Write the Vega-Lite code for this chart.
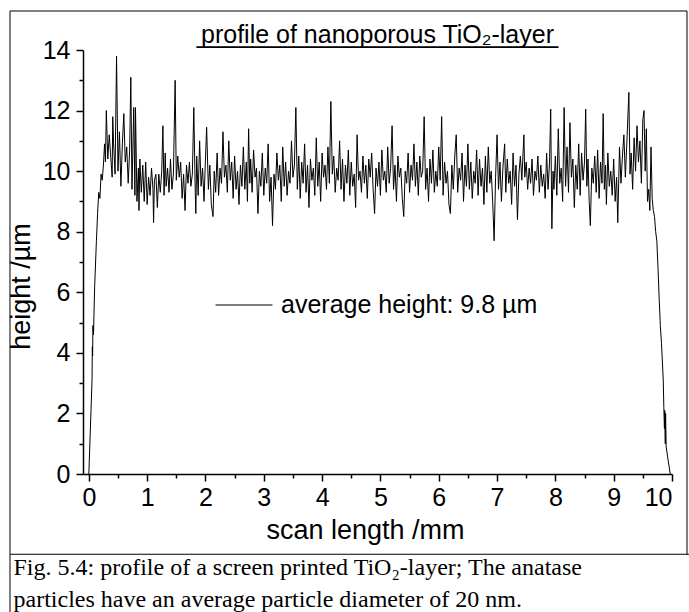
{
 "$schema": "https://vega.github.io/schema/vega-lite/v6.json",
 "autosize": {"type": "none"},
 "width": 589,
 "height": 424,
 "padding": {"left": 83, "top": 50, "right": 17, "bottom": 138},
 "background": "white",
 "title": {
  "text": "profile of nanoporous TiO\u2082-layer",
  "subtitle": "__________________________",
  "font": "Liberation Sans",
  "fontSize": 25,
  "fontWeight": "normal",
  "color": "black",
  "subtitleFont": "Liberation Sans",
  "subtitleFontSize": 25,
  "subtitleColor": "black",
  "subtitlePadding": -25,
  "anchor": "middle",
  "offset": -38
 },
 "config": {
  "view": {"stroke": null},
  "axis": {
   "domainColor": "black",
   "domainWidth": 1.5,
   "tickColor": "black",
   "tickWidth": 1.5,
   "labelColor": "black",
   "labelFont": "Liberation Sans",
   "labelFontSize": 25,
   "titleColor": "black",
   "titleFont": "Liberation Sans",
   "titleFontSize": 27,
   "titleFontWeight": "normal",
   "grid": false
  }
 },
 "data": {"values": [
  {"x":0,"y":0},{"x":0.055,"y":3.1},{"x":0.06,"y":4.2},{"x":0.065,"y":3.9},{"x":0.07,"y":4.9},{"x":0.08,"y":4.6},{"x":0.1,"y":6.2},{"x":0.13,"y":7.7},{"x":0.15,"y":8.6},{"x":0.17,"y":9.3},{"x":0.19,"y":9.1},{"x":0.21,"y":9.9},{"x":0.23,"y":9.7},{"x":0.25,"y":10.2},{"x":0.27,"y":10.9},{"x":0.285,"y":10.3},{"x":0.3,"y":12.0},
  {"x":0.325,"y":10.4},{"x":0.35,"y":11.2},{"x":0.375,"y":10.5},{"x":0.4,"y":9.8},{"x":0.41,"y":11.8},{"x":0.425,"y":10.9},{"x":0.45,"y":9.9},{"x":0.475,"y":13.8},{"x":0.5,"y":10.0},{"x":0.525,"y":11.3},{"x":0.55,"y":9.5},{"x":0.575,"y":10.9},{"x":0.6,"y":11.9},{"x":0.625,"y":10.3},{"x":0.65,"y":10.8},{"x":0.675,"y":9.6},{"x":0.7,"y":10.7},{"x":0.72,"y":13.1},{"x":0.74,"y":9.4},{"x":0.77,"y":12.1},{"x":0.79,"y":9.2},{"x":0.8,"y":12.1},{"x":0.825,"y":9.0},{"x":0.85,"y":10.1},{"x":0.86,"y":8.7},{"x":0.875,"y":10.4},{"x":0.9,"y":9.3},{"x":0.925,"y":10.2},{"x":0.95,"y":9.0},{"x":0.975,"y":10.3},
  {"x":1.0,"y":8.9},{"x":1.025,"y":9.8},{"x":1.05,"y":9.2},{"x":1.075,"y":10.1},{"x":1.1,"y":9.4},{"x":1.11,"y":8.3},{"x":1.125,"y":9.7},{"x":1.15,"y":9.9},{"x":1.175,"y":8.8},{"x":1.2,"y":9.9},{"x":1.225,"y":9.3},{"x":1.25,"y":10.0},{"x":1.27,"y":11.5},{"x":1.29,"y":9.2},{"x":1.31,"y":10.6},{"x":1.325,"y":9.5},{"x":1.35,"y":10.1},{"x":1.375,"y":9.3},{"x":1.4,"y":10.4},{"x":1.425,"y":9.4},{"x":1.45,"y":9.9},{"x":1.48,"y":13.0},{"x":1.5,"y":9.7},{"x":1.525,"y":10.5},{"x":1.55,"y":9.8},{"x":1.575,"y":10.3},{"x":1.6,"y":9.1},{"x":1.625,"y":9.9},{"x":1.65,"y":8.7},{"x":1.675,"y":10.2},{"x":1.7,"y":9.6},{"x":1.725,"y":10.3},{"x":1.75,"y":9.5},{"x":1.775,"y":9.9},{"x":1.8,"y":12.1},{"x":1.825,"y":9.3},{"x":1.835,"y":8.6},{"x":1.85,"y":10.5},{"x":1.875,"y":9.2},{"x":1.9,"y":11.0},{"x":1.925,"y":9.5},{"x":1.95,"y":10.1},{"x":1.975,"y":9.0},
  {"x":2.0,"y":10.4},{"x":2.02,"y":11.45},{"x":2.05,"y":9.4},{"x":2.075,"y":10.2},{"x":2.1,"y":8.9},{"x":2.13,"y":8.5},{"x":2.15,"y":10.0},{"x":2.175,"y":9.3},{"x":2.2,"y":10.6},{"x":2.225,"y":9.2},{"x":2.25,"y":10.1},{"x":2.275,"y":9.6},{"x":2.3,"y":11.3},{"x":2.325,"y":9.8},{"x":2.35,"y":10.2},{"x":2.375,"y":9.3},{"x":2.4,"y":11.0},{"x":2.425,"y":9.7},{"x":2.45,"y":10.3},{"x":2.475,"y":9.1},{"x":2.5,"y":10.5},{"x":2.525,"y":9.4},{"x":2.55,"y":10.0},{"x":2.575,"y":8.9},{"x":2.6,"y":10.2},{"x":2.625,"y":9.5},{"x":2.65,"y":10.8},{"x":2.675,"y":9.4},{"x":2.7,"y":10.3},{"x":2.72,"y":9.0},{"x":2.74,"y":11.4},{"x":2.76,"y":9.6},{"x":2.775,"y":10.4},{"x":2.8,"y":9.3},{"x":2.825,"y":10.7},{"x":2.85,"y":9.8},{"x":2.875,"y":10.1},{"x":2.9,"y":8.6},{"x":2.925,"y":10.0},{"x":2.95,"y":9.5},{"x":2.975,"y":10.6},
  {"x":3.0,"y":9.2},{"x":3.025,"y":10.1},{"x":3.05,"y":9.6},{"x":3.075,"y":10.9},{"x":3.1,"y":9.0},{"x":3.125,"y":9.8},{"x":3.15,"y":8.2},{"x":3.175,"y":9.9},{"x":3.2,"y":9.4},{"x":3.225,"y":10.6},{"x":3.25,"y":9.7},{"x":3.275,"y":10.2},{"x":3.3,"y":9.0},{"x":3.325,"y":10.8},{"x":3.35,"y":9.5},{"x":3.375,"y":10.3},{"x":3.4,"y":9.2},{"x":3.425,"y":10.0},{"x":3.45,"y":9.6},{"x":3.475,"y":11.0},{"x":3.5,"y":9.8},{"x":3.525,"y":10.2},{"x":3.55,"y":12.1},{"x":3.575,"y":9.4},{"x":3.6,"y":10.5},{"x":3.625,"y":9.1},{"x":3.65,"y":10.3},{"x":3.675,"y":9.6},{"x":3.7,"y":10.9},{"x":3.725,"y":9.3},{"x":3.75,"y":10.2},{"x":3.775,"y":8.8},{"x":3.8,"y":10.4},{"x":3.825,"y":9.7},{"x":3.85,"y":10.1},{"x":3.875,"y":9.2},{"x":3.9,"y":11.1},{"x":3.925,"y":9.5},{"x":3.95,"y":10.3},{"x":3.975,"y":9.0},
  {"x":4.0,"y":10.6},{"x":4.025,"y":9.8},{"x":4.05,"y":10.2},{"x":4.075,"y":9.4},{"x":4.1,"y":10.8},{"x":4.125,"y":9.6},{"x":4.15,"y":12.3},{"x":4.175,"y":9.9},{"x":4.2,"y":10.5},{"x":4.225,"y":9.3},{"x":4.25,"y":10.1},{"x":4.275,"y":9.7},{"x":4.3,"y":11.0},{"x":4.325,"y":9.4},{"x":4.35,"y":10.4},{"x":4.375,"y":9.0},{"x":4.4,"y":10.2},{"x":4.425,"y":9.6},{"x":4.45,"y":10.7},{"x":4.475,"y":9.2},{"x":4.5,"y":10.3},{"x":4.525,"y":9.5},{"x":4.55,"y":9.9},{"x":4.575,"y":8.8},{"x":4.6,"y":11.2},{"x":4.625,"y":9.7},{"x":4.65,"y":10.0},{"x":4.675,"y":9.3},{"x":4.7,"y":10.5},{"x":4.725,"y":9.6},{"x":4.75,"y":10.2},{"x":4.775,"y":9.1},{"x":4.8,"y":10.4},{"x":4.825,"y":9.8},{"x":4.85,"y":10.6},{"x":4.875,"y":9.4},{"x":4.9,"y":8.6},{"x":4.925,"y":10.1},{"x":4.95,"y":9.5},{"x":4.975,"y":10.3},
  {"x":5.0,"y":9.2},{"x":5.025,"y":10.7},{"x":5.05,"y":9.7},{"x":5.075,"y":10.0},{"x":5.1,"y":9.3},{"x":5.125,"y":10.8},{"x":5.15,"y":9.6},{"x":5.175,"y":10.1},{"x":5.2,"y":11.5},{"x":5.225,"y":9.4},{"x":5.25,"y":10.2},{"x":5.275,"y":9.0},{"x":5.3,"y":10.5},{"x":5.325,"y":9.8},{"x":5.35,"y":10.1},{"x":5.375,"y":9.1},{"x":5.4,"y":8.5},{"x":5.425,"y":10.0},{"x":5.45,"y":9.6},{"x":5.475,"y":10.6},{"x":5.5,"y":9.3},{"x":5.525,"y":10.2},{"x":5.55,"y":9.7},{"x":5.575,"y":10.9},{"x":5.6,"y":9.5},{"x":5.625,"y":10.3},{"x":5.65,"y":9.2},{"x":5.675,"y":10.5},{"x":5.7,"y":9.8},{"x":5.725,"y":10.0},{"x":5.75,"y":11.8},{"x":5.775,"y":9.4},{"x":5.8,"y":10.1},{"x":5.825,"y":9.0},{"x":5.85,"y":10.4},{"x":5.875,"y":9.6},{"x":5.9,"y":10.7},{"x":5.925,"y":9.3},{"x":5.95,"y":10.0},{"x":5.975,"y":9.5},
  {"x":6.0,"y":10.8},{"x":6.025,"y":9.7},{"x":6.05,"y":11.8},{"x":6.075,"y":9.2},{"x":6.1,"y":10.3},{"x":6.125,"y":9.6},{"x":6.15,"y":10.0},{"x":6.175,"y":8.9},{"x":6.2,"y":8.6},{"x":6.225,"y":10.2},{"x":6.25,"y":9.4},{"x":6.275,"y":10.5},{"x":6.3,"y":11.2},{"x":6.325,"y":9.3},{"x":6.35,"y":10.1},{"x":6.375,"y":9.7},{"x":6.4,"y":10.6},{"x":6.425,"y":9.0},{"x":6.45,"y":10.2},{"x":6.475,"y":9.5},{"x":6.5,"y":10.9},{"x":6.525,"y":9.4},{"x":6.55,"y":10.3},{"x":6.575,"y":9.1},{"x":6.6,"y":10.0},{"x":6.625,"y":9.6},{"x":6.65,"y":10.7},{"x":6.675,"y":9.2},{"x":6.7,"y":10.4},{"x":6.725,"y":9.5},{"x":6.75,"y":10.1},{"x":6.775,"y":8.9},{"x":6.8,"y":10.5},{"x":6.825,"y":9.3},{"x":6.85,"y":10.8},{"x":6.875,"y":9.6},{"x":6.9,"y":10.0},{"x":6.925,"y":9.0},{"x":6.95,"y":7.7},{"x":6.975,"y":9.8},
  {"x":7.0,"y":11.2},{"x":7.025,"y":9.4},{"x":7.05,"y":10.3},{"x":7.075,"y":9.0},{"x":7.1,"y":10.1},{"x":7.13,"y":10.9},{"x":7.15,"y":9.3},{"x":7.175,"y":10.4},{"x":7.2,"y":9.6},{"x":7.225,"y":10.0},{"x":7.25,"y":8.9},{"x":7.275,"y":10.6},{"x":7.3,"y":9.5},{"x":7.325,"y":10.2},{"x":7.35,"y":8.4},{"x":7.375,"y":9.9},{"x":7.4,"y":10.5},{"x":7.425,"y":9.7},{"x":7.46,"y":11.2},{"x":7.475,"y":9.8},{"x":7.5,"y":10.3},{"x":7.525,"y":9.4},{"x":7.55,"y":10.1},{"x":7.575,"y":9.6},{"x":7.6,"y":10.4},{"x":7.625,"y":9.2},{"x":7.65,"y":10.0},{"x":7.675,"y":9.7},{"x":7.7,"y":10.5},{"x":7.725,"y":9.3},{"x":7.75,"y":10.2},{"x":7.775,"y":9.5},{"x":7.8,"y":9.9},{"x":7.825,"y":9.1},{"x":7.85,"y":10.6},{"x":7.875,"y":9.4},{"x":7.9,"y":10.3},{"x":7.92,"y":12.05},{"x":7.94,"y":8.1},{"x":7.96,"y":10.0},{"x":7.975,"y":9.4},
  {"x":8.0,"y":10.5},{"x":8.025,"y":9.2},{"x":8.05,"y":11.4},{"x":8.075,"y":9.6},{"x":8.1,"y":10.1},{"x":8.125,"y":9.0},{"x":8.15,"y":12.1},{"x":8.175,"y":9.5},{"x":8.2,"y":10.8},{"x":8.225,"y":9.3},{"x":8.25,"y":11.6},{"x":8.275,"y":9.8},{"x":8.3,"y":10.4},{"x":8.325,"y":8.8},{"x":8.35,"y":10.2},{"x":8.375,"y":9.4},{"x":8.4,"y":10.9},{"x":8.425,"y":9.2},{"x":8.45,"y":10.6},{"x":8.475,"y":9.7},{"x":8.5,"y":10.3},{"x":8.52,"y":12.05},{"x":8.54,"y":9.5},{"x":8.56,"y":10.4},{"x":8.58,"y":9.0},{"x":8.6,"y":8.2},{"x":8.625,"y":10.1},{"x":8.65,"y":9.6},{"x":8.675,"y":10.5},{"x":8.7,"y":9.3},{"x":8.725,"y":10.7},{"x":8.75,"y":9.1},{"x":8.775,"y":10.3},{"x":8.8,"y":9.6},{"x":8.82,"y":11.9},{"x":8.84,"y":9.4},{"x":8.86,"y":10.2},{"x":8.875,"y":8.9},{"x":8.9,"y":10.6},{"x":8.925,"y":9.5},{"x":8.95,"y":10.0},{"x":8.975,"y":9.2},
  {"x":9.0,"y":10.4},{"x":9.025,"y":9.0},{"x":9.05,"y":9.8},{"x":9.07,"y":8.3},{"x":9.1,"y":10.8},{"x":9.125,"y":9.6},{"x":9.15,"y":10.5},{"x":9.175,"y":11.2},{"x":9.2,"y":9.8},{"x":9.225,"y":10.9},{"x":9.26,"y":12.6},{"x":9.28,"y":9.9},{"x":9.3,"y":10.6},{"x":9.325,"y":9.4},{"x":9.35,"y":11.1},{"x":9.375,"y":10.0},{"x":9.4,"y":11.5},{"x":9.425,"y":10.3},{"x":9.45,"y":11.0},{"x":9.475,"y":9.6},{"x":9.5,"y":11.7},{"x":9.52,"y":12.0},{"x":9.54,"y":10.0},{"x":9.56,"y":11.4},{"x":9.58,"y":9.0},{"x":9.6,"y":9.4},{"x":9.62,"y":8.7},{"x":9.64,"y":10.8},{"x":9.66,"y":9.1},{"x":9.68,"y":8.7},{"x":9.7,"y":8.5},{"x":9.72,"y":8.0},{"x":9.74,"y":7.7},{"x":9.76,"y":6.8},{"x":9.78,"y":5.8},{"x":9.8,"y":4.9},{"x":9.82,"y":4.3},{"x":9.85,"y":3.1},{"x":9.86,"y":2.2},{"x":9.87,"y":1.5},{"x":9.875,"y":2.1},{"x":9.885,"y":1.0},{"x":9.89,"y":2.0},{"x":9.9,"y":0.9},{"x":9.93,"y":0.5},{"x":9.97,"y":0.0}
 ]},
 "layer": [
  {
   "mark": {"type": "line", "strokeWidth": 1},
   "encoding": {
    "x": {"field": "x", "type": "quantitative",
     "scale": {"domain": [-0.1, 10], "nice": false, "zero": false},
     "axis": {"orient": "bottom", "values": [0,1,2,3,4,5,6,7,8,9,10], "tickSize": 7, "labelPadding": 4, "title": "scan length /mm", "titlePadding": 7, "titleX": 282}},
    "y": {"field": "y", "type": "quantitative",
     "scale": {"domain": [0, 14], "nice": false, "zero": true},
     "axis": {"orient": "left", "values": [0,2,4,6,8,10,12,14], "tickSize": 7, "labelPadding": 6, "title": "height /µm", "titlePadding": 7, "titleY": 236}},
    "color": {"datum": "average height: 9.8 µm", "type": "nominal",
     "scale": {"range": ["black"]},
     "legend": {"orient": "none", "legendX": 132, "legendY": 226, "title": null, "symbolType": "stroke", "symbolSize": 3249, "symbolStrokeWidth": 1, "symbolStrokeColor": "black", "labelFont": "Liberation Sans", "labelFontSize": 25, "labelColor": "black", "labelOffset": 8, "padding": 0, "labelLimit": 400}}
   }
  },
  {
   "mark": {"type": "point", "opacity": 0},
   "encoding": {
    "x": {"field": "x", "type": "quantitative",
     "axis": {"orient": "bottom", "values": [0.5,1.5,2.5,3.5,4.5,5.5,6.5,7.5,8.5,9.5], "tickSize": 4, "labels": false, "domain": false,
      "title": ["Fig. 5.4: profile of a screen printed TiO\u2082-layer; The anatase", "particles have an average particle diameter of 20 nm."],
      "titleFont": "Liberation Serif", "titleFontSize": 24, "titleFontWeight": "normal", "titleAnchor": "start", "titleAlign": "left", "titleBaseline": "alphabetic", "titleX": -70, "titleY": 100, "titleLineHeight": 32, "titleColor": "black"}},
    "y": {"field": "y", "type": "quantitative",
     "axis": {"orient": "left", "values": [1,3,5,7,9,11,13], "tickSize": 4, "labels": false, "domain": false, "title": null}}
   }
  },
  {
   "data": {"values": [{}]},
   "mark": {"type": "rule", "color": "black", "strokeWidth": 1},
   "encoding": {
    "x": {"datum": -1.352, "type": "quantitative", "axis": null},
    "y": {"datum": -4.6, "type": "quantitative", "axis": null},
    "y2": {"datum": 15.288}
   }
  },
  {
   "data": {"values": [{}]},
   "mark": {"type": "rule", "color": "black", "strokeWidth": 1},
   "encoding": {
    "x": {"datum": -1.352, "type": "quantitative", "axis": null},
    "x2": {"datum": 10.257},
    "y": {"datum": 15.288, "type": "quantitative", "axis": null}
   }
  },
  {
   "data": {"values": [{}]},
   "mark": {"type": "rule", "color": "black", "strokeWidth": 1},
   "encoding": {
    "x": {"datum": 10.257, "type": "quantitative", "axis": null},
    "y": {"datum": -2.65, "type": "quantitative", "axis": null},
    "y2": {"datum": 15.288}
   }
  },
  {
   "data": {"values": [{}]},
   "mark": {"type": "rule", "color": "black", "strokeWidth": 1},
   "encoding": {
    "x": {"datum": -1.352, "type": "quantitative", "axis": null},
    "x2": {"datum": 10.5},
    "y": {"datum": -2.65, "type": "quantitative", "axis": null}
   }
  }
 ],
 "resolve": {"axis": {"x": "independent", "y": "independent"}}
}
